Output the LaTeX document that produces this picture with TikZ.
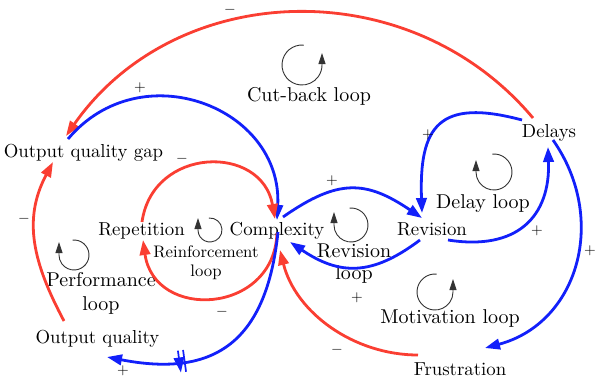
\documentclass[tikz,border=0pt]{standalone}
\usetikzlibrary{arrows.meta,decorations.markings}

\definecolor{linkred}{RGB}{250,62,50}
\definecolor{linkblue}{RGB}{18,32,250}

\tikzset{
  var/.style={font=\fontsize{10}{12}\selectfont, scale=1.88, transform shape, inner sep=0pt, anchor=base},
  looplbl/.style={font=\fontsize{10}{11}\selectfont, scale=2.0, transform shape, inner sep=0pt, align=center},
  sgn/.style={font=\fontsize{10}{12}\selectfont, scale=1.5, transform shape, inner sep=0pt},
  link/.style={line width=2.8pt, -{Triangle[length=15pt,width=10.5pt]}},
  poslink/.style={link, draw=linkblue},
  neglink/.style={link, draw=linkred},
  loopmark/.style={draw=black!80, line width=0.9pt, -{Triangle[length=11pt,width=7pt]}},
  delaymark/.style={postaction={decorate}, decoration={markings,
      mark=at position 0.70 with {\draw[linkblue, line width=1.7pt]
        (-2.6,-11) -- (-2.6,11) (2.6,-11) -- (2.6,11);}}},
}

\begin{document}
\begin{tikzpicture}[x=1pt,y=1pt]
\useasboundingbox (0,0) rectangle (595,-378);

% variables
\node[var] (gap) at (83.5,-157) {Output quality gap};
\node[var] (rep) at (141.5,-235) {Repetition};
\node[var] (cx)  at (277,-235) {Complexity};
\node[var] (rev) at (432,-235) {Revision};
\node[var] (del) at (549,-137) {Delays};
\node[var] (oq)  at (97.5,-343) {Output quality};
\node[var] (fru) at (460,-375) {Frustration};

% loop names
\node[looplbl, anchor=base] (lcut) at (309,-101) {Cut-back loop};
\node[looplbl, anchor=base] (ldel) at (483,-208) {Delay loop};
\node[looplbl, anchor=base] (lmot) at (450,-323) {Motivation loop};
\node[looplbl, scale=0.835, font=\fontsize{10}{11.4}\selectfont] (lrei) at (206,-263) {Reinforcement\\loop};
\node[looplbl] (lrev) at (354,-264) {Revision\\loop};
\node[looplbl, font=\fontsize{10}{12}\selectfont] (lper) at (101,-293) {Performance\\loop};

% loop direction markers
\draw[loopmark] (302,-65) ++(85:20) arc[start angle=85,end angle=360,radius=20] -- ++(0,12);
\draw[loopmark] (494,-172) ++(95:18) arc[start angle=95,end angle=-180,radius=18] -- ++(0,12);
\draw[loopmark] (210,-230) ++(95:12) arc[start angle=95,end angle=-180,radius=12] -- ++(0,12);
\draw[loopmark] (74,-255) ++(95:15) arc[start angle=95,end angle=-180,radius=15] -- ++(0,13);
\draw[loopmark] (351,-225) ++(95:17) arc[start angle=95,end angle=-180,radius=17] -- ++(0,13);
\draw[loopmark] (435,-292) ++(85:18) arc[start angle=85,end angle=360,radius=18] -- ++(0,13);

% causal links
\draw[neglink] ([shift={(-16,19)}]del.base) to[out=130,in=55,looseness=1.05] ([shift={(-17.5,21)}]gap.base);
\draw[poslink] ([shift={(-15.5,18)}]gap.base) to[out=50,in=87,looseness=1.29] ([shift={(0,15)}]cx.base);
\draw[neglink] ([shift={(-33.5,22)}]oq.base) to[out=118,in=242,looseness=1.05] ([shift={(-30.5,-5)}]gap.base);
\draw[neglink] ([shift={(0.5,13)}]rep.base) to[out=82,in=100,looseness=1.47] ([shift={(-2,16)}]cx.base);
\draw[neglink] ([shift={(0,2)}]cx.base) to[out=-92,in=-82,looseness=1.56] ([shift={(1.5,-5)}]rep.base);
\draw[poslink, delaymark] ([shift={(1,3)}]cx.base) to[out=-96,in=-11,looseness=1.33] ([shift={(9.5,-14)}]oq.base);
\draw[neglink] ([shift={(-42,20)}]fru.base) to[out=180,in=-76,looseness=0.95] ([shift={(3,-15)}]cx.base);
\draw[poslink] ([shift={(6,18)}]cx.base) to[out=35,in=146,looseness=1.24] ([shift={(-10,17)}]rev.base);
\draw[poslink] ([shift={(-12,-5)}]rev.base) to[out=217,in=-34,looseness=1.18] ([shift={(13,-7)}]cx.base);
\draw[poslink] ([shift={(-27,17)}]del.base) to[out=165,in=92,looseness=1.62] ([shift={(-10,22)}]rev.base);
\draw[poslink] ([shift={(16,-5)}]rev.base) to[out=-9,in=-88,looseness=1.31] ([shift={(-1,-10)}]del.base);
\draw[poslink] ([shift={(4,-3)}]del.base) to[out=-55,in=15,looseness=1.13] ([shift={(25,27)}]fru.base);

% polarity signs
\node[sgn] (s1)  at (230,-10)  {$-$};
\node[sgn] (s2)  at (140,-88)  {$+$};
\node[sgn] (s3)  at (24,-219)  {$-$};
\node[sgn] (s4)  at (182,-159) {$-$};
\node[sgn] (s5)  at (222,-312) {$-$};
\node[sgn] (s6)  at (123,-371) {$+$};
\node[sgn] (s7)  at (332,-181) {$+$};
\node[sgn] (s8)  at (357,-298) {$+$};
\node[sgn] (s9)  at (337,-350) {$-$};
\node[sgn] (s10) at (428,-135) {$+$};
\node[sgn] (s11) at (537,-231) {$+$};
\node[sgn] (s12) at (590,-251) {$+$};
\end{tikzpicture}
\end{document}
